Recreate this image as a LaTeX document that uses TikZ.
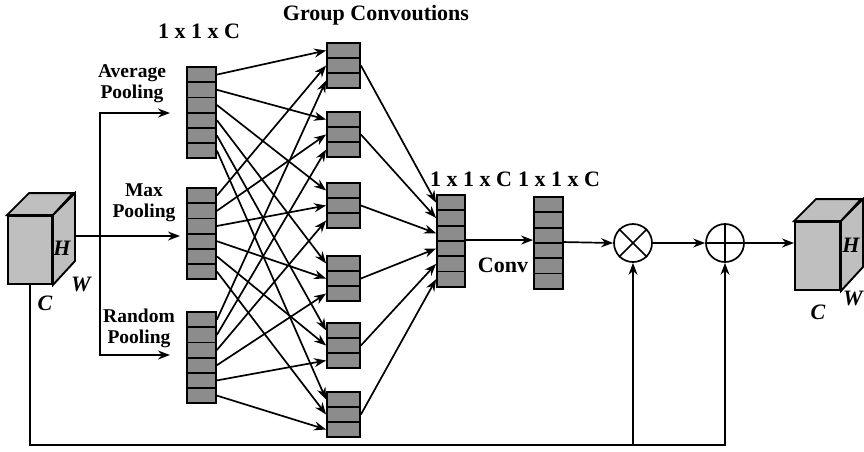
\documentclass[tikz,border=0pt]{standalone}
\usepackage{fontspec}
\setmainfont{Liberation Serif}
\usetikzlibrary{arrows.meta,calc}

\begin{document}
\begin{tikzpicture}[x=1pt,y=-1pt,>={Stealth[length=12pt,width=9pt]},line width=1.7pt]
    % pixel grid, y grows downwards
    \tikzstyle{cell}=[rectangle,draw=black,fill=black!45,line width=1.8pt,inner sep=0pt,
    minimum width=29pt,minimum height=15.2pt]
    \tikzstyle{gcell}=[cell,minimum width=33pt,minimum height=15pt]
    \tikzstyle{cubeface}=[draw=black,fill=black!25,line width=1.9pt,inner sep=0pt]
    \tikzstyle{op}=[circle,draw=black,line width=1.7pt,minimum size=38pt,inner sep=0pt]
    \tikzstyle{big}=[font=\fontsize{22}{24}\selectfont\bfseries]
    \tikzstyle{pool}=[align=center,font=\fontsize{19.5}{21}\selectfont\bfseries]
    \tikzstyle{dim}=[font=\fontsize{22}{24}\selectfont\bfseries\itshape]

    \useasboundingbox (0,0) rectangle (864,451);

    % input cube
    \node [cubeface,minimum width=44pt,minimum height=68pt] (incube) at (30,250) {};
    \draw [cubeface] (incube.north west) -- ++(22,-22) -- ++(44,0) -- (incube.north east) -- cycle;
    \draw [cubeface] (incube.north east) -- ++(22,-22) -- ++(0,68) -- (incube.south east) -- cycle;
    \node [dim] (inH) at (62,248) {H};
    \node [dim] (inW) at (81,284) {W};
    \node [dim] (inC) at (45,303) {C};

    % output cube
    \node [cubeface,minimum width=45pt,minimum height=68pt] (outcube) at (817.5,256) {};
    \draw [cubeface] (outcube.north west) -- ++(22,-22) -- ++(45,0) -- (outcube.north east) -- cycle;
    \draw [cubeface] (outcube.north east) -- ++(22,-22) -- ++(0,68) -- (outcube.south east) -- cycle;
    \node [dim] (outH) at (851,245) {H};
    \node [dim] (outW) at (853,298) {W};
    \node [dim] (outC) at (818,312) {C};

    % pooled vectors
    \foreach \i in {1,...,6} {
        \node [cell] (avg\i) at (201.5,59.4+15.2*\i) {};
        \node [cell] (max\i) at (201.5,180.4+15.2*\i) {};
        \node [cell] (rnd\i) at (201.5,304.4+15.2*\i) {};
        \node [cell,minimum width=28pt] (cat\i) at (451,187.35+15.3*\i) {};
        \node [cell] (con\i) at (548.5,189.35+15.3*\i) {};
    }

    % group convolutions
    \foreach \top [count=\i] in {43,112,183,256,323,392}
        \foreach \j in {1,2,3}
            \node [gcell] (grp\i-\j) at (343.5,\top-7.5+15*\j) {};

    \node [op] (mul) at (633,243) {};
    \draw (mul.north east) -- (mul.south west) (mul.north west) -- (mul.south east);
    \node [op] (add) at (725,243) {};
    \draw (add.north) -- (add.south) (add.west) -- (add.east);

    % labels
    \node [big] (pooldim) at (199,31) {1 x 1 x C};
    \node [big] (grouplabel) at (376,15) {Group Convoutions};
    \node [big] (catdim) at (471,179) {1 x 1 x C};
    \node [big] (condim) at (559,179) {1 x 1 x C};
    \node [big] (convlabel) at (503,265) {Conv};
    \node [pool] (avglabel) at (132,84) {Average\\Pooling};
    \node [pool] (maxlabel) at (144,203) {Max\\Pooling};
    \node [pool] (rndlabel) at (139,328) {Random\\Pooling};

    % pooling branches
    \coordinate (fork) at (100,236);
    \coordinate (toavg) at (170,113);
    \coordinate (tomax) at (180,236);
    \coordinate (tornd) at (170,355);
    \draw ($(incube.east)+(22,-14)$) -- (fork);
    \draw [->] (fork) |- (toavg);
    \draw [->] (fork) -- (tomax);
    \draw [->] (fork) |- (tornd);

    \foreach \i in {1,...,6} {
        \draw [->] (avg\i.east) -- (grp\i-1.west);
        \draw [->] (max\i.east) -- (grp\i-2.west);
        \draw [->] (rnd\i.east) -- (grp\i-3.west);
        \draw [->] (grp\i-2.east) -- (cat\i.west);
    }

    \draw [->] (cat4.north east) -- (cat4.north east -| con4.west);
    \draw [->] (con4.north east) -- (mul.west);
    \draw [->] (mul.east) -- (add.west);
    \draw [->] (add.east) -- (add.east -| outcube.west);

    % skip connection
    \coordinate (skipend) at (725,445);
    \draw [->] (incube.south) |- (skipend) -- (add.south);
    \draw [->] (mul.south |- skipend) -- (mul.south);

\end{tikzpicture}
\end{document}
